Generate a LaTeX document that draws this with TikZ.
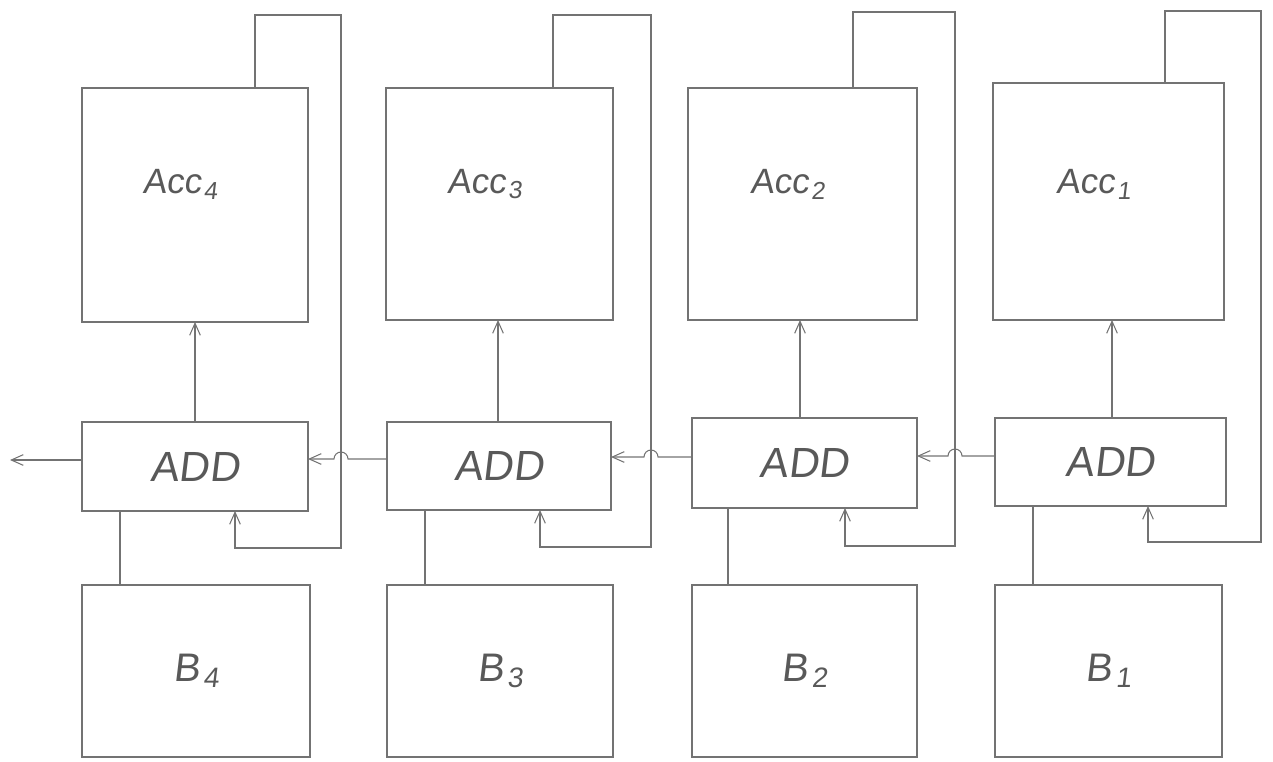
\documentclass[tikz,border=0pt]{standalone}
\usepackage{fontspec}
\setmainfont{Liberation Sans}[FakeSlant=0.12]
\usetikzlibrary{arrows.meta}
\begin{document}
\begin{tikzpicture}[x=0.03cm,y=-0.03cm,
  ln/.style={draw=black!55, line width=0.9pt},
  blk/.style={ln, rectangle, inner sep=0pt, outer sep=0pt, text=black!65},
  arr/.style={ln, -{Straight Barb[length=3.6mm,width=3.2mm]}},
  acctxt/.style={text=black!65, inner sep=0pt, font=\fontsize{30}{30}\selectfont},
  addtxt/.style={font=\fontsize{36}{36}\selectfont},
  btxt/.style={font=\fontsize{34}{34}\selectfont},
]
\useasboundingbox (0,0) rectangle (1273,761);
\foreach \n/\L/\R/\aT/\aB/\dL/\dR/\dT/\dB/\bL/\bR/\ux/\vx/\fx/\fr/\fy/\ly/\lx in {
4/82/308/88/322/82/308/422/511/82/310/195/120/255/341/15/548/235,
3/386/613/88/320/387/611/422/510/387/613/498/425/553/651/15/547/540,
2/688/917/88/320/692/917/418/508/692/917/800/728/853/955/12/546/845,
1/993/1224/83/320/995/1226/418/506/995/1222/1112/1033/1165/1261/11/542/1148}{
  \node[blk, minimum width={(\R-\L)*0.03cm}, minimum height={(\aB-\aT)*0.03cm}]
    (acc\n) at ({(\L+\R)/2},{(\aT+\aB)/2}) {};
  \node[acctxt] (acct\n) at ({(\L+\R)/2-15},184)
    {Acc\kern2pt{\fontsize{21}{21}\selectfont\raisebox{-5pt}{\n}}};
  \node[blk, addtxt, minimum width={(\dR-\dL)*0.03cm}, minimum height={(\dB-\dT)*0.03cm}]
    (add\n) at ({(\dL+\dR)/2},{(\dT+\dB)/2}) {ADD};
  \node[blk, btxt, minimum width={(\bR-\bL)*0.03cm}, minimum height={(757-585)*0.03cm}]
    (b\n) at ({(\bL+\bR)/2},{(585+757)/2})
    {B\kern3pt{\fontsize{24}{24}\selectfont\raisebox{-5pt}{\n}}};
  \coordinate (u\n) at (\ux,0);
  \coordinate (v\n) at (\vx,0);
  \coordinate (ft\n) at (\fx,\fy);
  \coordinate (fc\n) at (\fr,\fy);
  \coordinate (fd\n) at (\fr,\ly);
  \coordinate (fe\n) at (\lx,\ly);
  \draw[arr] (add\n.north -| u\n) -- (acc\n.south -| u\n);
  \draw[ln] (b\n.north -| v\n) -- (add\n.south -| v\n);
  \draw[arr] (acc\n.north -| ft\n) -- (ft\n) -- (fc\n) -- (fd\n) -- (fe\n) -- (add\n.south -| fe\n);
}
\foreach \n/\m/\y/\hx in {1/2/456/955, 2/3/457/651, 3/4/459/341}{
  \coordinate (cy\n) at (0,\y);
  \coordinate (hop\n) at (\hx+7,\y);
  \draw[arr] (add\n.west |- cy\n) -- (hop\n) arc[start angle=0,end angle=-180,radius=7]
    -- (add\m.east |- cy\n);
}
\coordinate (out) at (10,460);
\draw[arr] (add4.west |- out) -- (out);
\end{tikzpicture}
\end{document}
